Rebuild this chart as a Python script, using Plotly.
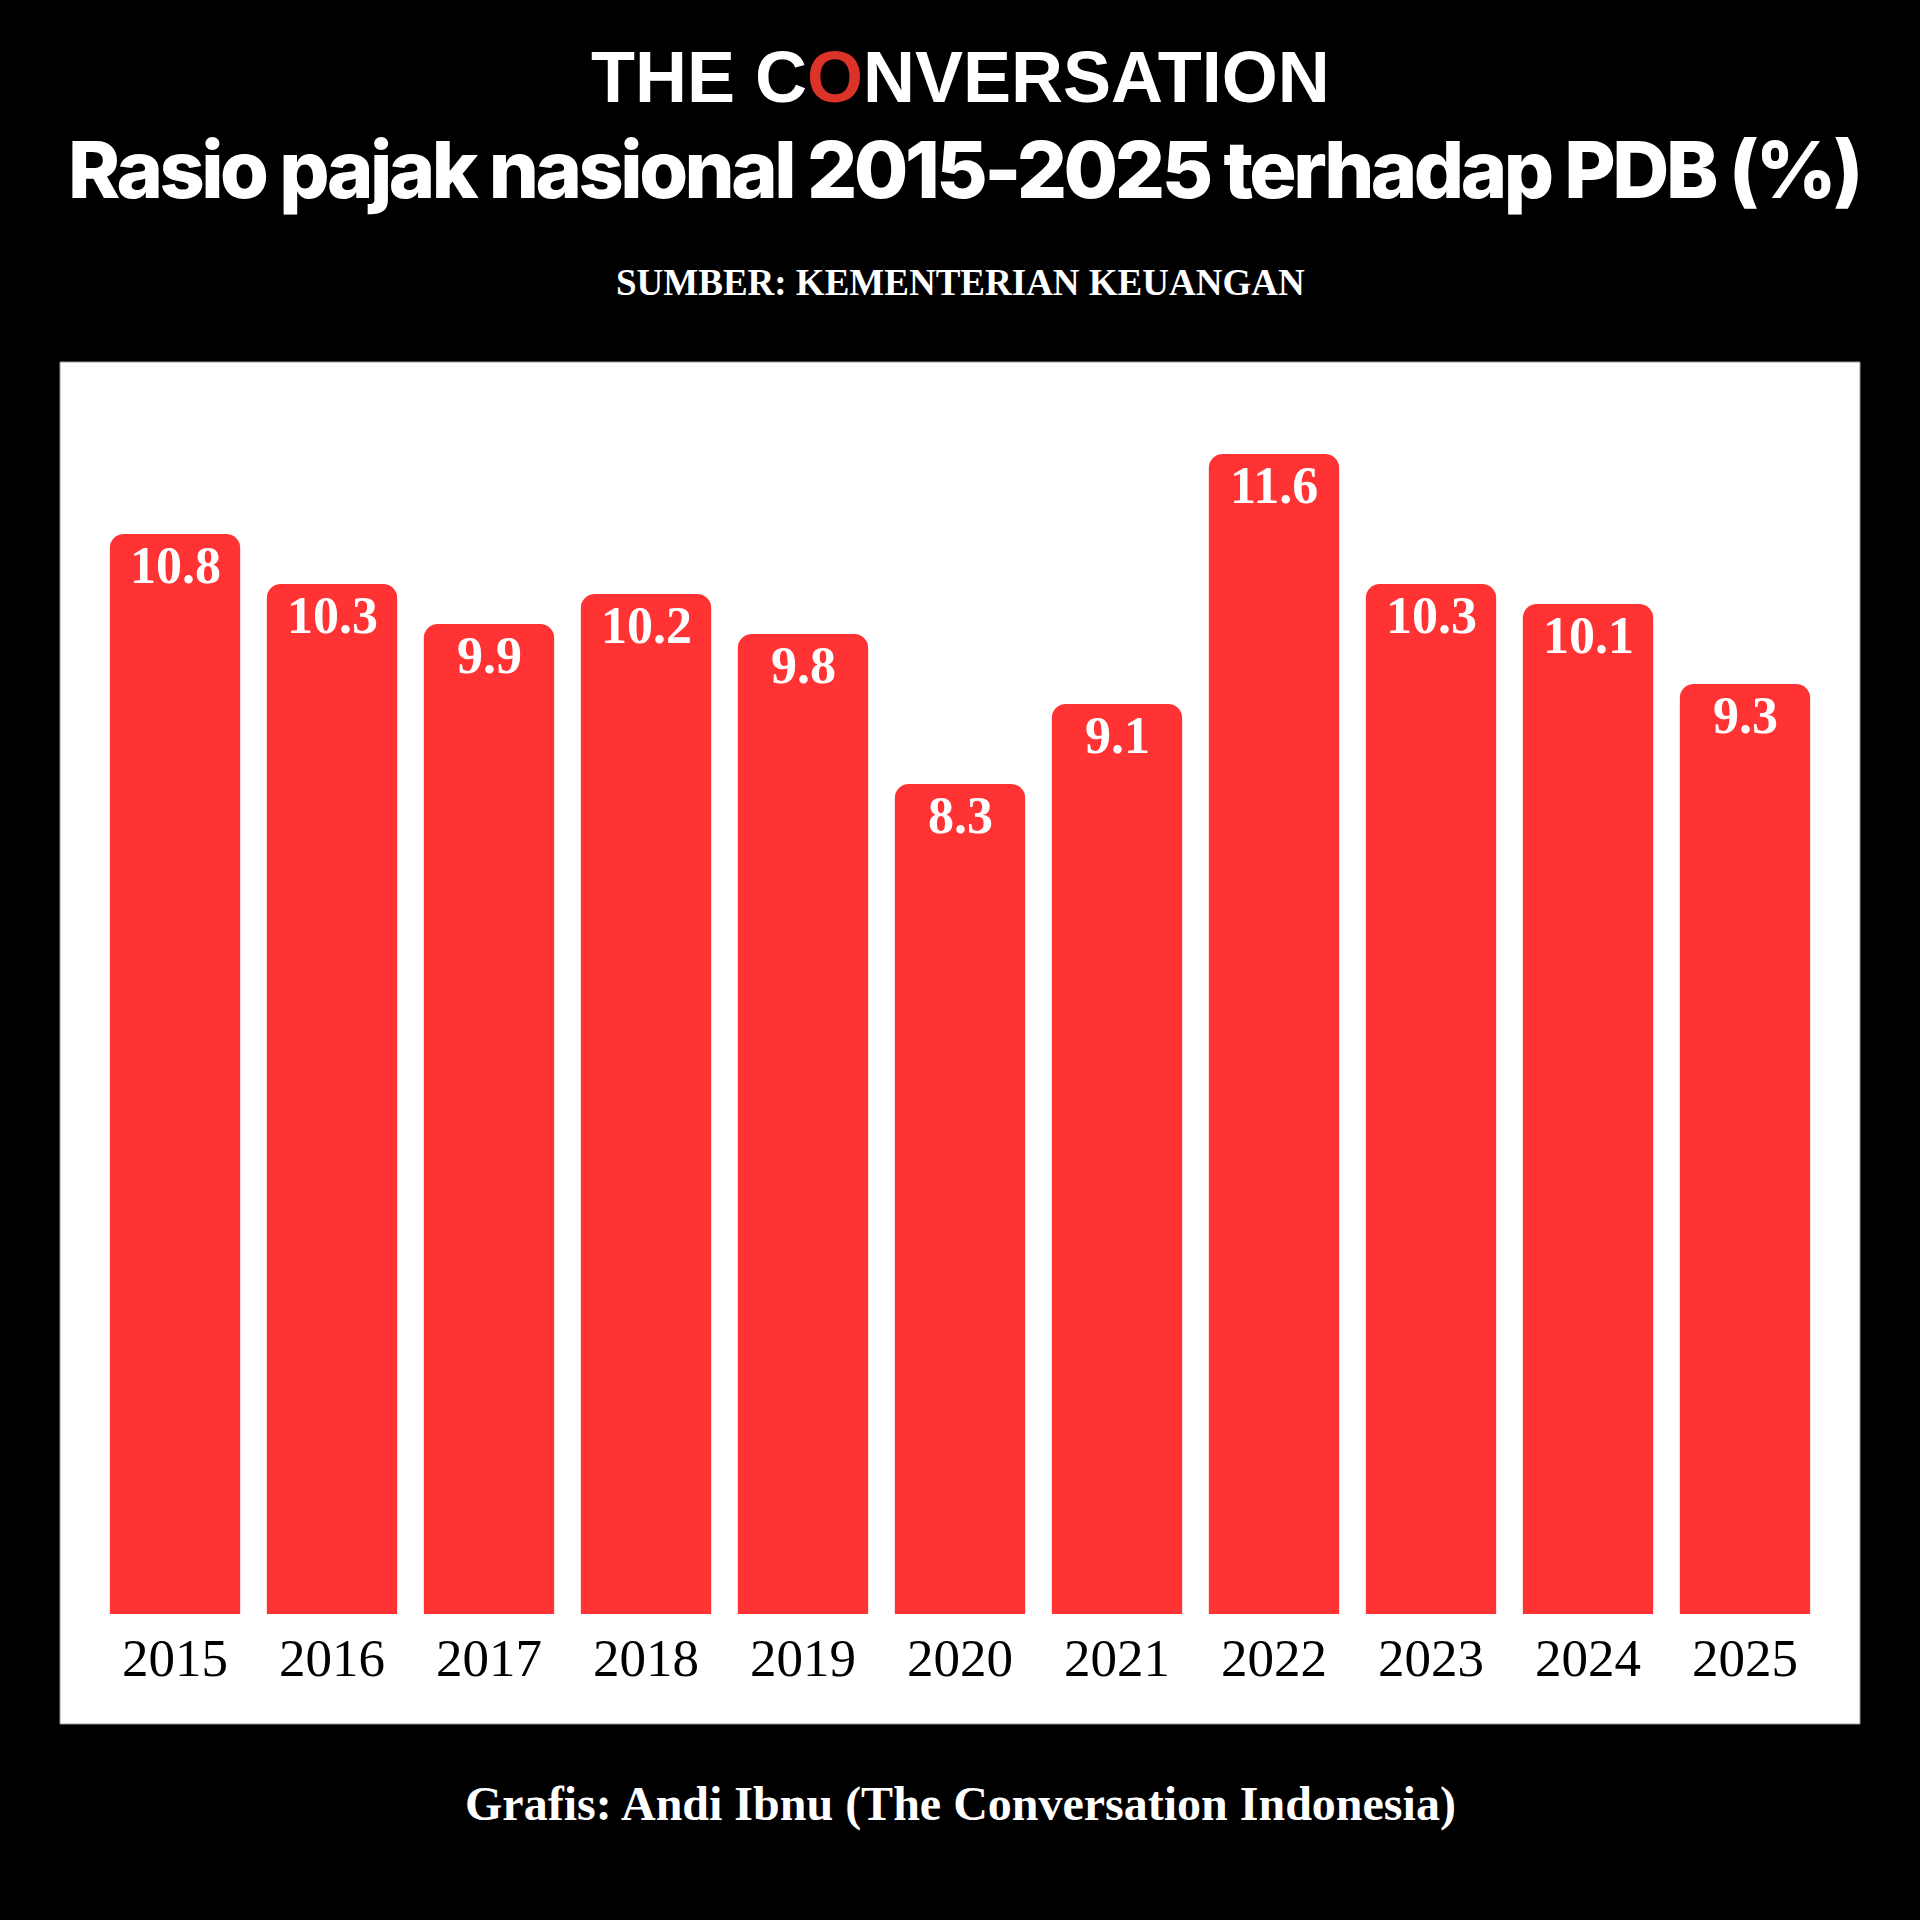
import plotly.graph_objects as go

years = [2015, 2016, 2017, 2018, 2019, 2020, 2021, 2022, 2023, 2024, 2025]
year_labels = [str(y) for y in years]
ratio = [10.8, 10.3, 9.9, 10.2, 9.8, 8.3, 9.1, 11.6, 10.3, 10.1, 9.3]

logo_text = "THE C<span style='color:#DB3328'>O</span>NVERSATION"
title_text = "Rasio pajak nasional 2015-2025 terhadap PDB (%)"
source_text = "SUMBER: KEMENTERIAN KEUANGAN"
credit_text = "Grafis: Andi Ibnu (The Conversation Indonesia)"

W, H = 1920, 1920
PL, PR, PT, PB = 60, 1860, 362, 1614  # plot area px


def yp(py):
    return (PB - py) / (PB - PT)


fig = go.Figure(
    go.Bar(
        x=years,
        y=ratio,
        width=0.83,
        marker=dict(color="#FF3333", cornerradius=14, line=dict(width=0)),
        cliponaxis=False,
        hoverinfo="x+y",
    )
)

value_annotations = [
    dict(
        x=yr, y=v, xref="x", yref="y",
        text=f"{v:.1f}",
        xanchor="center", yanchor="top", yshift=-1,
        showarrow=False,
        font=dict(family="Liberation Serif", size=52, color="white", weight="bold"),
    )
    for yr, v in zip(years, ratio)
]

fig.update_layout(
    width=W,
    height=H,
    margin=dict(l=PL, r=W - PR, t=PT, b=H - PB, pad=0),
    paper_bgcolor="black",
    plot_bgcolor="white",
    showlegend=False,
    bargap=0.17,
    xaxis=dict(
        range=[2014.2675, 2025.7325],
        tickvals=years,
        ticktext=year_labels,
        tickfont=dict(family="Liberation Serif", size=53, color="black"),
        showgrid=False,
        zeroline=False,
        showline=False,
        ticks="",
        ticklabelstandoff=8,
    ),
    yaxis=dict(
        range=[0, 12.52],
        visible=False,
        showgrid=False,
        zeroline=False,
    ),
    shapes=[
        dict(
            type="rect",
            xref="paper",
            yref="paper",
            x0=0,
            x1=1,
            y0=yp(1724),
            y1=1,
            fillcolor="white",
            line=dict(color="#9a9a9a", width=1),
            layer="below",
        )
    ],
    annotations=value_annotations + [
        dict(
            text=logo_text,
            xref="paper", yref="paper", x=0.5, y=yp(77),
            xanchor="center", yanchor="middle", showarrow=False,
            font=dict(family="Liberation Sans", size=72, color="white", weight="bold"),
        ),
        dict(
            text=f"<span style='letter-spacing:-3.5px'>{title_text}</span>",
            xref="paper", yref="paper", x=0.502, y=yp(169),
            xanchor="center", yanchor="middle", showarrow=False,
            font=dict(family="Inter", size=79, color="white", weight=800),
        ),
        dict(
            text=source_text,
            xref="paper", yref="paper", x=0.5, y=yp(283),
            xanchor="center", yanchor="middle", showarrow=False,
            font=dict(family="Liberation Serif", size=37, color="white", weight="bold"),
        ),
        dict(
            text=credit_text,
            xref="paper", yref="paper", x=0.5, y=yp(1804),
            xanchor="center", yanchor="middle", showarrow=False,
            font=dict(family="Liberation Serif", size=48, color="white", weight="bold"),
        ),
    ],
)

fig.write_html("out.html")
